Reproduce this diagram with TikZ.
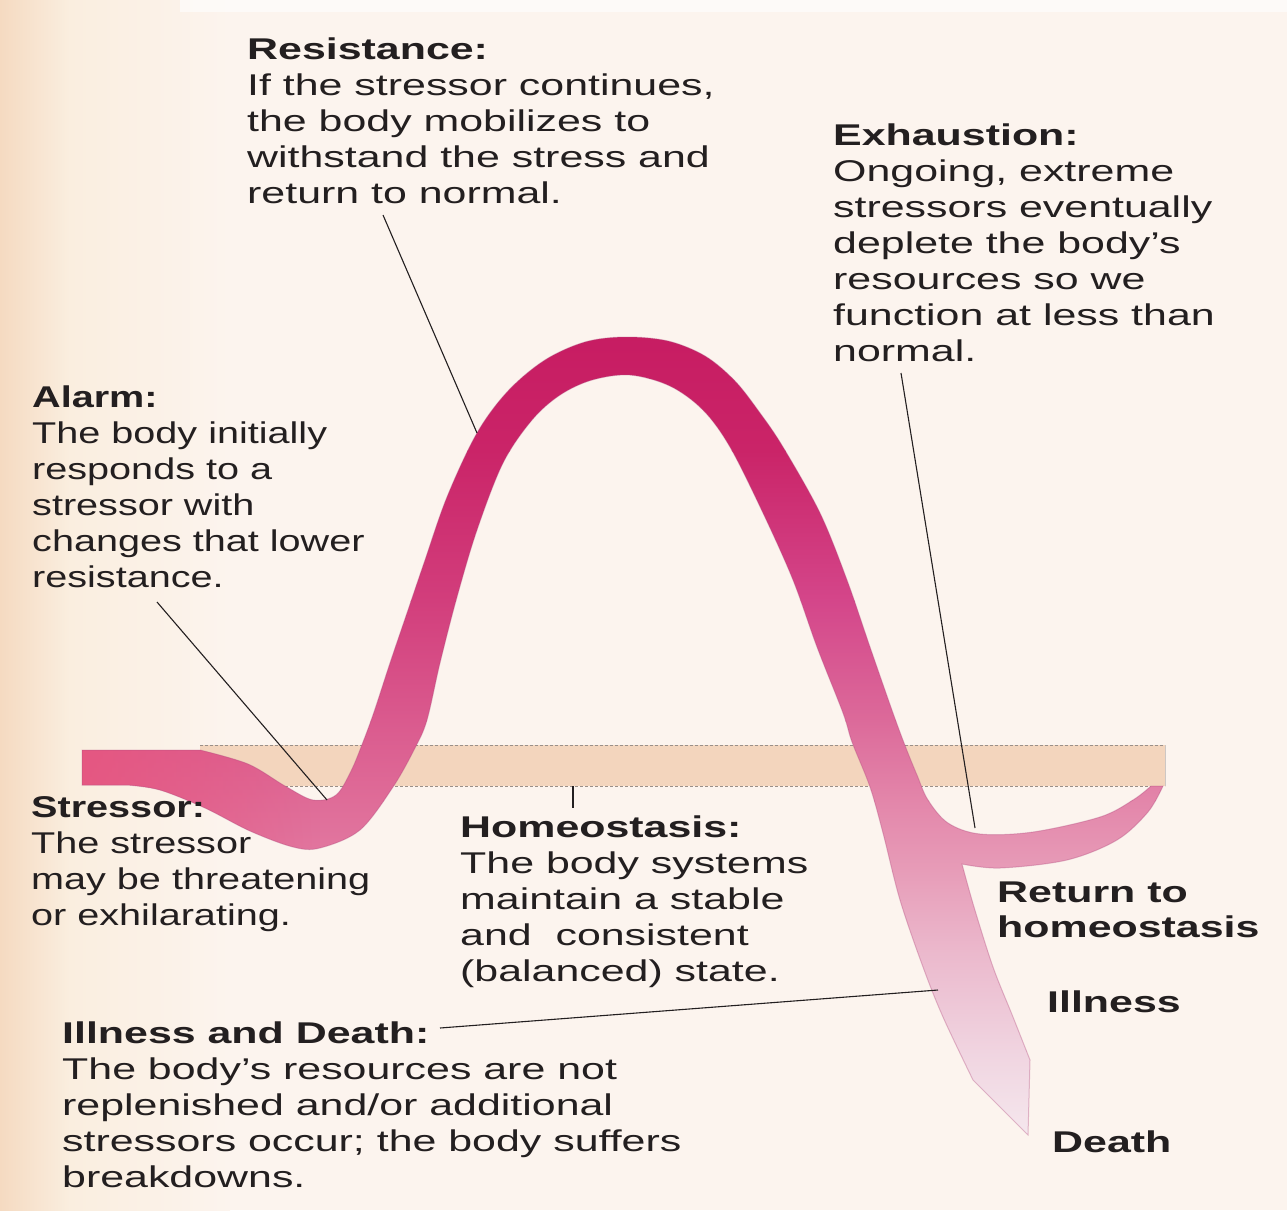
\documentclass[tikz,border=0pt]{standalone}
\usepackage{fontspec}
\usetikzlibrary{fadings}
\newfontfamily\fw[FakeStretch=1.43]{Liberation Sans}
\newfontfamily\fn[FakeStretch=1.32]{Liberation Sans}
\definecolor{bg}{HTML}{FCF4EE}
\definecolor{bgleft}{HTML}{F5DAC1}
\definecolor{bgmid}{HTML}{FAEEDF}
\definecolor{textc}{HTML}{231F20}
\definecolor{bandc}{HTML}{F3D5BD}
\definecolor{bandedge}{HTML}{9A8F88}
\definecolor{cA}{HTML}{C71C62}
\definecolor{cB}{HTML}{CA2468}
\definecolor{cC}{HTML}{D23E7C}
\definecolor{cD}{HTML}{DA5A8E}
\definecolor{cE}{HTML}{DF6C98}
\definecolor{cF}{HTML}{E27AA2}
\definecolor{rC}{HTML}{D4468A}
\definecolor{rD}{HTML}{DC6A9A}
\definecolor{rE}{HTML}{E386AA}
\definecolor{rF}{HTML}{E79CB8}
\definecolor{rG}{HTML}{EBB8CC}
\definecolor{rH}{HTML}{F0D4E0}
\definecolor{rI}{HTML}{F5E8EE}
\definecolor{leftred}{HTML}{E65680}
\definecolor{ribedge}{HTML}{B24A7E}
\tikzfading[name=myfaderight, left color=transparent!0, right color=transparent!100]
\def\ribbonpath{(82,750) -- (200,750)
  -- plot[smooth, tension=0.55] coordinates {(200,750) (248,764) (285,786) (313,800) (336,795) (351,771) (363,742) (374,712) (390,663) (407,613) (424,563) (447,497) (477,433) (508,391) (545,360) (585,342) (625,337) (668,341) (705,356) (735,381) (760,413) (783,447) (820,513) (847,580) (870,647) (893,713) (906,748) (917,775) (928,800) (948,823) (980,834) (1033,832) (1100,817) (1133,800) (1151,786)}
  -- (1163,786)
  -- plot[smooth, tension=0.55] coordinates {(1163,786) (1148,812) (1117,840) (1067,860) (1000,868) (962,864)}
  -- plot[smooth, tension=0.55] coordinates {(962,864) (974,907) (993,967) (1013,1017) (1030,1060)}
  -- (1028,1135) -- (973,1080)
  -- plot[smooth, tension=0.55] coordinates {(973,1080) (943,1017) (923,967) (900,900) (883,833) (870,787) (852,742) (843,713) (817,647) (793,580) (763,513) (730,447) (703,410) (670,386) (630,375) (592,380) (560,395) (532,420) (503,463) (477,530) (457,597) (440,663) (427,720) (415,748) (393,787) (360,830) (320,848) (293,847) (250,831) (205,808) (160,790) (127,785)}
  -- (82,785) -- cycle}
\tikzset{
  txt/.style={anchor=north west, inner sep=0pt, align=left, text=textc},
  wide/.style={font=\fw\fontsize{30}{36}\selectfont},
  narrow/.style={font=\fn\fontsize{30}{36}\selectfont},
  leader/.style={draw=textc, line width=1.1pt},
}
\begin{document}
\begin{tikzpicture}[x=1pt, y=-1pt]
\useasboundingbox (0,0) rectangle (1287,1210);
% background
\fill[bg] (0,0) rectangle (1287,1210);
\shade[left color=bgleft, right color=bgmid] (0,0) rectangle (70,1210);
\shade[left color=bgmid, right color=bg] (69.5,0) rectangle (230,1210);
\fill[white, opacity=0.6] (180,0) rectangle (1287,12);
% homeostasis band
\fill[bandc] (200,745) rectangle (1165,786);
\draw[bandedge, densely dashed, line width=1pt] (200,745) -- (1165,745);
\draw[bandedge, densely dashed, line width=1pt] (200,786) -- (1165,786);
\draw[bandedge!50, line width=0.8pt] (1165,745) -- (1165,786);
% ribbon
\begin{scope}
  \clip \ribbonpath;
  \shade[top color=cA, bottom color=cB] (60,330) rectangle (650,451);
  \shade[top color=cB, bottom color=cC] (60,450) rectangle (650,601);
  \shade[top color=cC, bottom color=cD] (60,600) rectangle (650,721);
  \shade[top color=cD, bottom color=cE] (60,720) rectangle (650,801);
  \shade[top color=cE, bottom color=cF] (60,800) rectangle (650,870);
  \fill[leftred, path fading=myfaderight] (60,740) rectangle (320,870);
  \shade[top color=cA, bottom color=cB] (649,330) rectangle (1170,451);
  \shade[top color=cB, bottom color=rC] (649,450) rectangle (1170,601);
  \shade[top color=rC, bottom color=rD] (649,600) rectangle (1170,721);
  \shade[top color=rD, bottom color=rE] (649,720) rectangle (1170,801);
  \shade[top color=rE, bottom color=rF] (649,800) rectangle (1170,871);
  \shade[top color=rF, bottom color=rG] (649,870) rectangle (1170,951);
  \shade[top color=rG, bottom color=rH] (649,950) rectangle (1170,1051);
  \shade[top color=rH, bottom color=rI] (649,1050) rectangle (1170,1140);
\end{scope}
\draw[ribedge, opacity=0.35, line width=1pt] \ribbonpath;
% texts
\node[txt, wide] (res) at (247,37.5) {\textbf{Resistance:}\\If the stressor continues,\\the body mobilizes to\\withstand the stress and\\return to normal.};
\node[txt, wide] (exh) at (833,123.5) {\textbf{Exhaustion:}\\Ongoing, extreme\\stressors eventually\\deplete the body’s\\resources so we\\function at less than\\normal.};
\node[txt, narrow] (alarm) at (32,385.5) {\textbf{Alarm:}\\The body initially\\responds to a\\stressor with\\changes that lower\\resistance.};
\node[txt, narrow] (stressor) at (31,796.5) {\textbf{Stressor:}\\The stressor\\may be threatening\\or exhilarating.};
\node[txt, wide] (homeo) at (460,815.5) {\textbf{Homeostasis:}\\The body systems\\maintain a stable\\and\ \ consistent\\(balanced) state.};
\node[txt, wide] (illdeath) at (62,1021.5) {\textbf{Illness and Death:}\\The body’s resources are not\\replenished and/or additional\\stressors occur; the body suffers\\breakdowns.};
\node[txt, font=\fw\fontsize{30}{35}\selectfont\bfseries] (ret) at (997,881.5) {Return to\\homeostasis};
\node[txt, font=\fw\fontsize{30}{36}\selectfont\bfseries] (ill) at (1047,990.5) {Illness};
\node[txt, font=\fw\fontsize{30}{36}\selectfont\bfseries] (death) at (1052,1130.5) {Death};
% leader lines
\coordinate (resA) at (383,215);
\coordinate (resB) at (477,433);
\coordinate (alA) at (157,602);
\coordinate (alB) at (327,800);
\coordinate (exA) at (901,373);
\coordinate (exB) at (975,828);
\coordinate (idA) at (440,1028);
\coordinate (idB) at (938,990);
\coordinate (hoA) at (573,786);
\coordinate (hoB) at (573,808);
\draw[leader] (resA) -- (resB);
\draw[leader] (alA) -- (alB);
\draw[leader] (exA) -- (exB);
\draw[leader] (idA) -- (idB);
\draw[leader] (hoA) -- (hoB);
\end{tikzpicture}
\end{document}
